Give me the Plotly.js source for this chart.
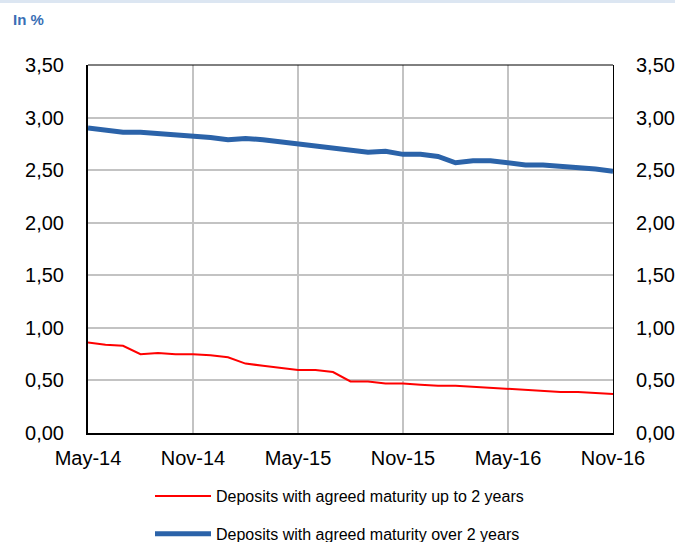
<!DOCTYPE html>
<html>
<head>
<meta charset="utf-8">
<script src="https://cdn.plot.ly/plotly-3.0.1.min.js"></script>
<style>html,body{margin:0;padding:0;background:#fff;}#chart{width:675px;height:542px;}</style>
</head>
<body>
<div id="chart"></div>
<script>
const months = ["May-14","Jun-14","Jul-14","Aug-14","Sep-14","Oct-14","Nov-14","Dec-14",
  "Jan-15","Feb-15","Mar-15","Apr-15","May-15","Jun-15","Jul-15","Aug-15","Sep-15","Oct-15",
  "Nov-15","Dec-15","Jan-16","Feb-16","Mar-16","Apr-16","May-16","Jun-16","Jul-16","Aug-16",
  "Sep-16","Oct-16","Nov-16"];
const tickLabels = ["May-14","Nov-14","May-15","Nov-15","May-16","Nov-16"];
const upTo2 = [0.86,0.84,0.83,0.75,0.76,0.75,0.75,0.74,0.72,0.66,0.64,0.62,0.60,0.60,0.58,0.49,
  0.49,0.47,0.47,0.46,0.45,0.45,0.44,0.43,0.42,0.41,0.40,0.39,0.39,0.38,0.37];
const over2 = [2.90,2.88,2.86,2.86,2.85,2.83,2.83,2.81,2.79,2.80,2.79,2.77,2.76,2.74,2.71,2.70,
  2.67,2.68,2.65,2.65,2.63,2.57,2.59,2.59,2.57,2.55,2.55,2.54,2.52,2.51,2.49];
const yTicks = [0,0.5,1,1.5,2,2.5,3,3.5];

const L = 88, T = 65, W = 525, H = 368;
const traces = [
  {x: months, y: upTo2, type: 'scatter', mode: 'lines', name: 'Deposits with agreed maturity up to 2 years',
   line: {color: '#ff0000', width: 2}, legendgroup: 'a'},
  {x: months, y: over2, type: 'scatter', mode: 'lines', name: 'Deposits with agreed maturity over 2 years',
   line: {color: '#2b63a9', width: 5}, legendgroup: 'b'},
  {x: months, y: over2, type: 'scatter', mode: 'lines', yaxis: 'y2', showlegend: false,
   hoverinfo: 'skip', line: {width: 0}, opacity: 0}
];
const axFont = {family: 'Liberation Sans, Arial, sans-serif', size: 20, color: '#000'};
const layout = {
  width: 675, height: 542,
  margin: {l: L, r: 675 - L - W, t: T, b: 542 - T - H, pad: 0, autoexpand: false},
  paper_bgcolor: '#fff', plot_bgcolor: '#fff',
  separators: ',.',
  showlegend: true,
  xaxis: {type: 'category', range: [0, 30], tickvals: tickLabels, ticktext: tickLabels,
    showgrid: true, gridcolor: '#c3c3c3', gridwidth: 2, showline: true, linecolor: '#000', linewidth: 2,
    ticks: '', tickfont: axFont, ticklabelstandoff: 6, zeroline: false, fixedrange: true, automargin: false},
  yaxis: {range: [0, 3.5], tickvals: yTicks, tickformat: '.2f', showgrid: true, gridcolor: '#c3c3c3',
    gridwidth: 2, showline: true, linecolor: '#000', linewidth: 2, ticks: '', tickfont: axFont,
    ticklabelstandoff: 18, zeroline: false, automargin: false},
  yaxis2: {range: [0, 3.5], tickvals: yTicks, tickformat: '.2f', overlaying: 'y', side: 'right',
    showgrid: false, showline: true, linecolor: '#000', linewidth: 1, ticks: '', tickfont: axFont,
    ticklabelstandoff: 18, zeroline: false, automargin: false},
  legend: {x: (150 - L) / W, xanchor: 'left', yref: 'container', y: 1 - 479 / 542, yanchor: 'top', orientation: 'v',
    traceorder: 'grouped', tracegroupgap: 14, itemwidth: 56,
    font: {family: 'Liberation Sans, Arial, sans-serif', size: 16, color: '#000'}, bgcolor: 'rgba(0,0,0,0)'},
  shapes: [
    {type: 'rect', xref: 'paper', yref: 'paper', x0: -L / W, x1: (675 - L) / W,
     y0: 1 + (T - 3) / H, y1: 1 + T / H, fillcolor: '#dce6f2', line: {width: 0}, layer: 'below'},
    {type: 'line', xref: 'paper', yref: 'paper', x0: 0, x1: 1, y0: 1, y1: 1, line: {color: '#000', width: 1}}
  ],
  annotations: [
    {text: '<b>In %</b>', xref: 'paper', yref: 'paper', x: (11 - L) / W, xanchor: 'left',
     y: 1 + (T - 19) / H, yanchor: 'middle', showarrow: false,
     font: {family: 'Liberation Sans, Arial, sans-serif', size: 15, color: '#3a6fb5'}}
  ]
};
Plotly.newPlot('chart', traces, layout, {displayModeBar: false, staticPlot: true});
</script>
</body>
</html>
